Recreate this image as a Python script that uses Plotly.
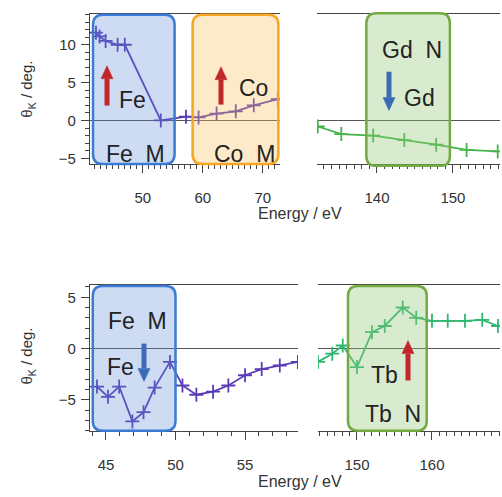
import plotly.graph_objects as go

W, H = 502, 497

# ---------------- data ----------------
top_fe_energy = [42.2, 42.8, 43.8, 45.8, 47.0, 53.0, 57.2, 59.3, 62.3, 65.5, 68.5, 72.5]
top_fe_theta = [11.6, 11.1, 10.5, 10.0, 10.0, 0.0, 0.5, 0.4, 0.9, 1.2, 2.0, 2.8]

top_gd_energy = [132.2, 135.3, 139.5, 143.6, 147.8, 151.8, 155.9]
top_gd_theta = [-0.8, -1.8, -2.0, -2.6, -3.2, -3.9, -4.1]

bot_fe_energy = [44.35, 45.15, 45.95, 46.9, 47.7, 48.5, 49.6, 50.5, 51.5, 52.7, 53.8, 55.0, 56.2, 57.5, 58.8]
bot_fe_theta = [-3.7, -4.7, -3.7, -7.1, -6.2, -3.8, -1.3, -3.6, -4.5, -4.2, -3.6, -2.6, -2.0, -1.65, -1.3]

bot_tb_energy = [144.8, 146.7, 148.1, 150.0, 152.0, 153.7, 156.1, 157.9, 160.0, 162.1, 164.4, 166.7, 168.8]
bot_tb_theta = [-1.3, -0.5, 0.3, -1.8, 1.6, 2.2, 4.0, 3.0, 2.7, 2.7, 2.7, 2.8, 2.2]

# axis ranges
x1_range = [41.2, 72.87]
x2_range = [132.1, 156.2]
y_top_range = [-5.8, 14.07]
x3_range = [43.85, 58.81]
x4_range = [144.8, 169.07]
y_bot_range = [-8.06, 6.21]

# ---------------- layout helpers ----------------
def pxx(x):
    return x / W

def pxy(y):
    return 1 - y / H

dom_x1 = [pxx(90), pxx(280)]
dom_x2 = [pxx(317), pxx(500)]
dom_x3 = [pxx(90), pxx(298)]
dom_x4 = [pxx(318), pxx(500)]
dom_ytop = [pxy(165), pxy(14)]
dom_ybot = [pxy(433), pxy(286)]

def d2p(v, rng, dom):
    return dom[0] + (v - rng[0]) / (rng[1] - rng[0]) * (dom[1] - dom[0])

def rbox(x0, x1, y0, y1, r=10):
    rx, ry = r / W, r / H
    return (f"M {x0+rx},{y1} L {x1-rx},{y1} Q {x1},{y1} {x1},{y1-ry} "
            f"L {x1},{y0+ry} Q {x1},{y0} {x1-rx},{y0} L {x0+rx},{y0} "
            f"Q {x0},{y0} {x0},{y0+ry} L {x0},{y1-ry} Q {x0},{y1} {x0+rx},{y1} Z")

PURPLE = "#5a3db6"
GREEN_TOP = "#44b44a"
GREEN_BOT = "#2fb872"
FONT = "Liberation Sans, Arial, sans-serif"
AX = "#444444"

fig = go.Figure()
def add_series(x, y, color, xa, ya):
    fig.add_trace(go.Scatter(x=x, y=y, mode="lines+markers",
                             line=dict(color=color, width=1.8),
                             marker=dict(symbol="cross-thin", size=10, color=color,
                                         line=dict(width=1.8, color=color)),
                             xaxis=xa, yaxis=ya))

add_series(top_fe_energy, top_fe_theta, PURPLE, "x", "y")
add_series(top_gd_energy, top_gd_theta, GREEN_TOP, "x2", "y2")
add_series(bot_fe_energy, bot_fe_theta, PURPLE, "x3", "y3")
add_series(bot_tb_energy, bot_tb_theta, GREEN_BOT, "x4", "y4")

def xax(dom, rng, dtick, anchor):
    return dict(domain=dom, range=rng, anchor=anchor, showgrid=False, zeroline=False,
                showline=True, linecolor=AX, linewidth=1.2, mirror=True,
                ticks="outside", ticklen=8, tickwidth=1.2, tickcolor=AX, dtick=dtick, tick0=0,
                minor=dict(dtick=1, ticks="outside", ticklen=4, tickcolor=AX, tickwidth=1),
                tickfont=dict(family=FONT, size=15, color="#333"), ticklabelstandoff=12)

def yax(dom, rng, anchor, show):
    d = dict(domain=dom, range=rng, anchor=anchor, showgrid=False,
             zeroline=True, zerolinecolor="#555", zerolinewidth=1.2)
    if show:
        d.update(showline=True, linecolor=AX, linewidth=1.2, ticks="outside", ticklen=8,
                 tickwidth=1.2, tickcolor=AX, dtick=5, tick0=0,
                 minor=dict(dtick=1, ticks="outside", ticklen=4, tickcolor=AX, tickwidth=1),
                 tickfont=dict(family=FONT, size=15, color="#333"), ticklabelstandoff=2)
    else:
        d.update(showline=False, ticks="", showticklabels=False)
    return d

fig.update_layout(
    width=W, height=H, margin=dict(l=0, r=0, t=0, b=0),
    paper_bgcolor="white", plot_bgcolor="rgba(0,0,0,0)", showlegend=False,
    xaxis=xax(dom_x1, x1_range, 10, "y"),
    xaxis2=xax(dom_x2, x2_range, 10, "y2"),
    xaxis3=xax(dom_x3, x3_range, 5, "y3"),
    xaxis4=xax(dom_x4, x4_range, 10, "y4"),
    yaxis=yax(dom_ytop, y_top_range, "x", True),
    yaxis2=yax(dom_ytop, y_top_range, "x2", False),
    yaxis3=yax(dom_ybot, y_bot_range, "x3", True),
    yaxis4=yax(dom_ybot, y_bot_range, "x4", False),
)

# ---------------- highlight boxes ----------------
boxes = [
    # (x range, axis range, x domain, y range, y axis range, y domain, fill, line)
    ([41.7, 55.3], x1_range, dom_x1, [-5.75, 13.95], y_top_range, dom_ytop, "rgba(90,140,215,0.30)", "#3b7bd4"),
    ([58.3, 72.6], x1_range, dom_x1, [-5.75, 13.95], y_top_range, dom_ytop, "rgba(250,190,90,0.33)", "#f5a623"),
    ([138.6, 149.6], x2_range, dom_x2, [-6.0, 14.15], y_top_range, dom_ytop, "rgba(150,200,120,0.36)", "#73ab42"),
    ([44.05, 50.0], x3_range, dom_x3, [-8.0, 6.1], y_bot_range, dom_ybot, "rgba(90,140,215,0.30)", "#3b7bd4"),
    ([148.8, 159.3], x4_range, dom_x4, [-8.0, 6.1], y_bot_range, dom_ybot, "rgba(150,200,120,0.36)", "#73ab42"),
]
for xr, xrng, xd, yr, yrng, yd, fill, lc in boxes:
    x0, x1 = d2p(xr[0], xrng, xd), d2p(xr[1], xrng, xd)
    y0, y1 = d2p(yr[0], yrng, yd), d2p(yr[1], yrng, yd)
    fig.add_shape(type="path", path=rbox(x0, x1, y0, y1), xref="paper", yref="paper",
                  fillcolor=fill, line=dict(color=lc, width=2.5), layer="above")

# ---------------- labels ----------------
labels = [
    ("Fe", 132, 100), ("Fe\u00a0 M", 135, 155), ("Co", 253, 88), ("Co\u00a0 M", 244, 155),
    ("Gd\u00a0 N", 412, 50), ("Gd", 419, 98),
    ("Fe\u00a0 M", 137, 322), ("Fe", 120, 368), ("Tb", 384, 377), ("Tb\u00a0 N", 393, 416),
]
for t, x, y in labels:
    fig.add_annotation(text=t, x=pxx(x), y=pxy(y), xref="paper", yref="paper",
                       showarrow=False, xanchor="center", yanchor="middle",
                       font=dict(family=FONT, size=23, color="#222"))

RED = "#c0262b"
BLUE = "#3b6bb5"
arrows = [  # x, tail y, tip y, colour (pixels)
    (107, 106, 66, RED), (221, 105, 67, RED), (389, 72, 111, BLUE),
    (144, 345, 383, BLUE), (408, 382, 342, RED),
]
HEAD_L, HEAD_W = 13, 6
for x, ty, hy, c in arrows:
    s = 1 if hy > ty else -1  # direction in pixel y
    base = hy - s * HEAD_L
    fig.add_shape(type="line", x0=pxx(x), x1=pxx(x), y0=pxy(ty), y1=pxy(base),
                  xref="paper", yref="paper", line=dict(color=c, width=5), layer="above")
    fig.add_shape(type="path", xref="paper", yref="paper", layer="above",
                  path=f"M {pxx(x-HEAD_W)},{pxy(base)} L {pxx(x+HEAD_W)},{pxy(base)} L {pxx(x)},{pxy(hy)} Z",
                  fillcolor=c, line=dict(color=c, width=0.5))

# axis titles
for y in (214, 483):
    fig.add_annotation(text="Energy / eV", x=pxx(300), y=pxy(y), xref="paper", yref="paper",
                       xanchor="center", yanchor="middle",
                       showarrow=False, font=dict(family=FONT, size=16, color="#333"))
for y in (90, 358):
    fig.add_annotation(text="θ<sub>K</sub> / deg.", x=pxx(28), y=pxy(y), xref="paper", yref="paper",
                       xanchor="center", yanchor="middle",
                       showarrow=False, textangle=-90, font=dict(family=FONT, size=15, color="#333"))

fig.write_html("out.html", config={"displayModeBar": False},
               post_script="document.body.style.margin='0';document.body.style.overflow='hidden';")
